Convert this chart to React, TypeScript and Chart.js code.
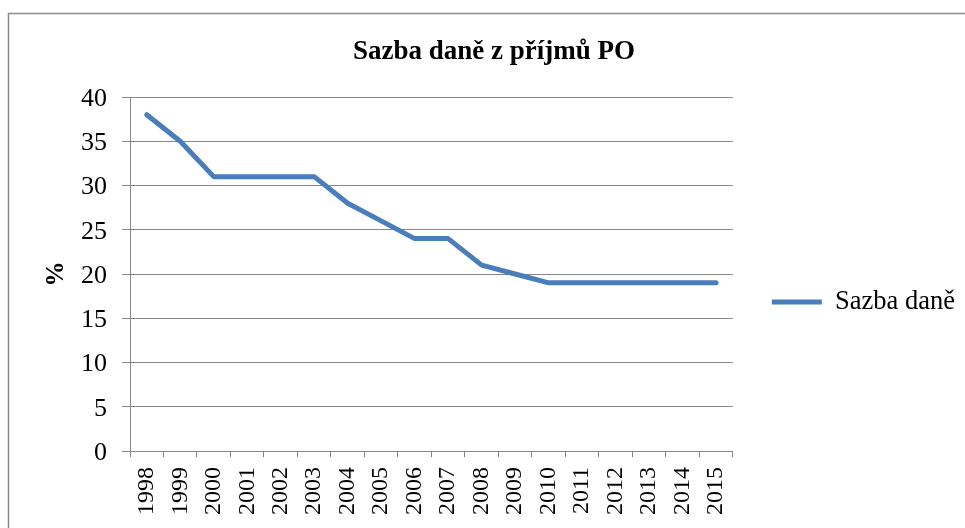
import React, { useEffect, useRef } from "react";
import { Chart, registerables } from "chart.js";

Chart.register(...registerables);

const years = ["1998", "1999", "2000", "2001", "2002", "2003", "2004", "2005", "2006", "2007", "2008", "2009", "2010", "2011", "2012", "2013", "2014", "2015"];
const taxRate = [38, 35, 31, 31, 31, 31, 28, 26, 24, 24, 21, 20, 19, 19, 19, 19, 19, 19];
const yMin = 0;
const yMax = 40;
const yStep = 5;
const chartTitle = "Sazba daně z příjmů PO";
const seriesLabel = "Sazba daně";
const yAxisTitle = "%";

const FONT = "'Liberation Serif', 'Times New Roman', serif";
const GRID = "#868686";
const LINE = "#4A7EBB";

const framePlugin = {
  id: "frame",
  beforeDraw(chart: any) {
    const ctx = chart.ctx;
    ctx.save();
    ctx.strokeStyle = "#8a8a8a";
    ctx.lineWidth = 1.5;
    ctx.beginPath();
    ctx.moveTo(8.5, chart.height);
    ctx.lineTo(8.5, 13.5);
    ctx.lineTo(chart.width, 13.5);
    ctx.stroke();
    ctx.restore();
  },
};

export default function App() {
  const ref = useRef<HTMLCanvasElement | null>(null);

  useEffect(() => {
    if (!ref.current) return;
    const chart = new Chart(ref.current, {
      type: "line",
      data: {
        labels: years,
        datasets: [
          {
            label: seriesLabel,
            data: taxRate,
            borderColor: LINE,
            backgroundColor: LINE,
            borderWidth: 5,
            pointRadius: 0,
            pointHoverRadius: 0,
            tension: 0,
            fill: false,
            borderCapStyle: "round",
            borderJoinStyle: "round",
          },
        ],
      },
      options: {
        animation: false,
        responsive: false,
        maintainAspectRatio: false,
        layout: { padding: { left: 23, right: 0, top: 0, bottom: 0 } },
        plugins: {
          title: {
            display: true,
            text: chartTitle,
            color: "#000",
            font: { family: FONT, size: 27, weight: "bold", lineHeight: 1.2 },
            padding: { top: 36, bottom: 28.6 },
          },
          legend: {
            position: "right",
            align: "center",
            fullSize: false,
            title: { display: true, text: "", font: { size: 12, lineHeight: 1 }, padding: 22 },
            labels: {
              usePointStyle: true,
              pointStyle: "line",
              pointStyleWidth: 50,
              padding: 39,
              color: "#000",
              font: { family: FONT, size: 26.5 },
            },
          },
          tooltip: { enabled: false },
        },
        scales: {
          x: {
            offset: true,
            grid: {
              display: true,
              drawOnChartArea: false,
              drawTicks: true,
              tickLength: 6,
              offset: true,
              color: GRID,
            },
            border: { display: true, color: GRID, width: 1 },
            ticks: {
              minRotation: 90,
              maxRotation: 90,
              autoSkip: false,
              padding: 10,
              color: "#000",
              font: { family: FONT, size: 24 },
            },
            afterFit: (s: any) => {
              s.height = 77;
            },
          },
          y: {
            min: yMin,
            max: yMax,
            ticks: {
              stepSize: yStep,
              padding: 15,
              labelOffset: 2,
              color: "#000",
              font: { family: FONT, size: 26 },
            },
            grid: { color: GRID, tickLength: 8 },
            border: { display: true, color: GRID, width: 1 },
            title: {
              display: true,
              text: yAxisTitle,
              color: "#000",
              font: { family: FONT, size: 25, weight: "bold", lineHeight: 1.2 },
              padding: { top: 19, bottom: 0 },
            },
            afterFit: (s: any) => {
              s.width = 107;
            },
          },
        },
      },
      plugins: [framePlugin],
    } as any);
    return () => chart.destroy();
  }, []);

  return (
    <div style={{ position: "fixed", left: 0, top: 0, width: 965, height: 528, background: "#fff" }}>
      <canvas ref={ref} width={965} height={528} style={{ display: "block", width: 965, height: 528 }} />
    </div>
  );
}
